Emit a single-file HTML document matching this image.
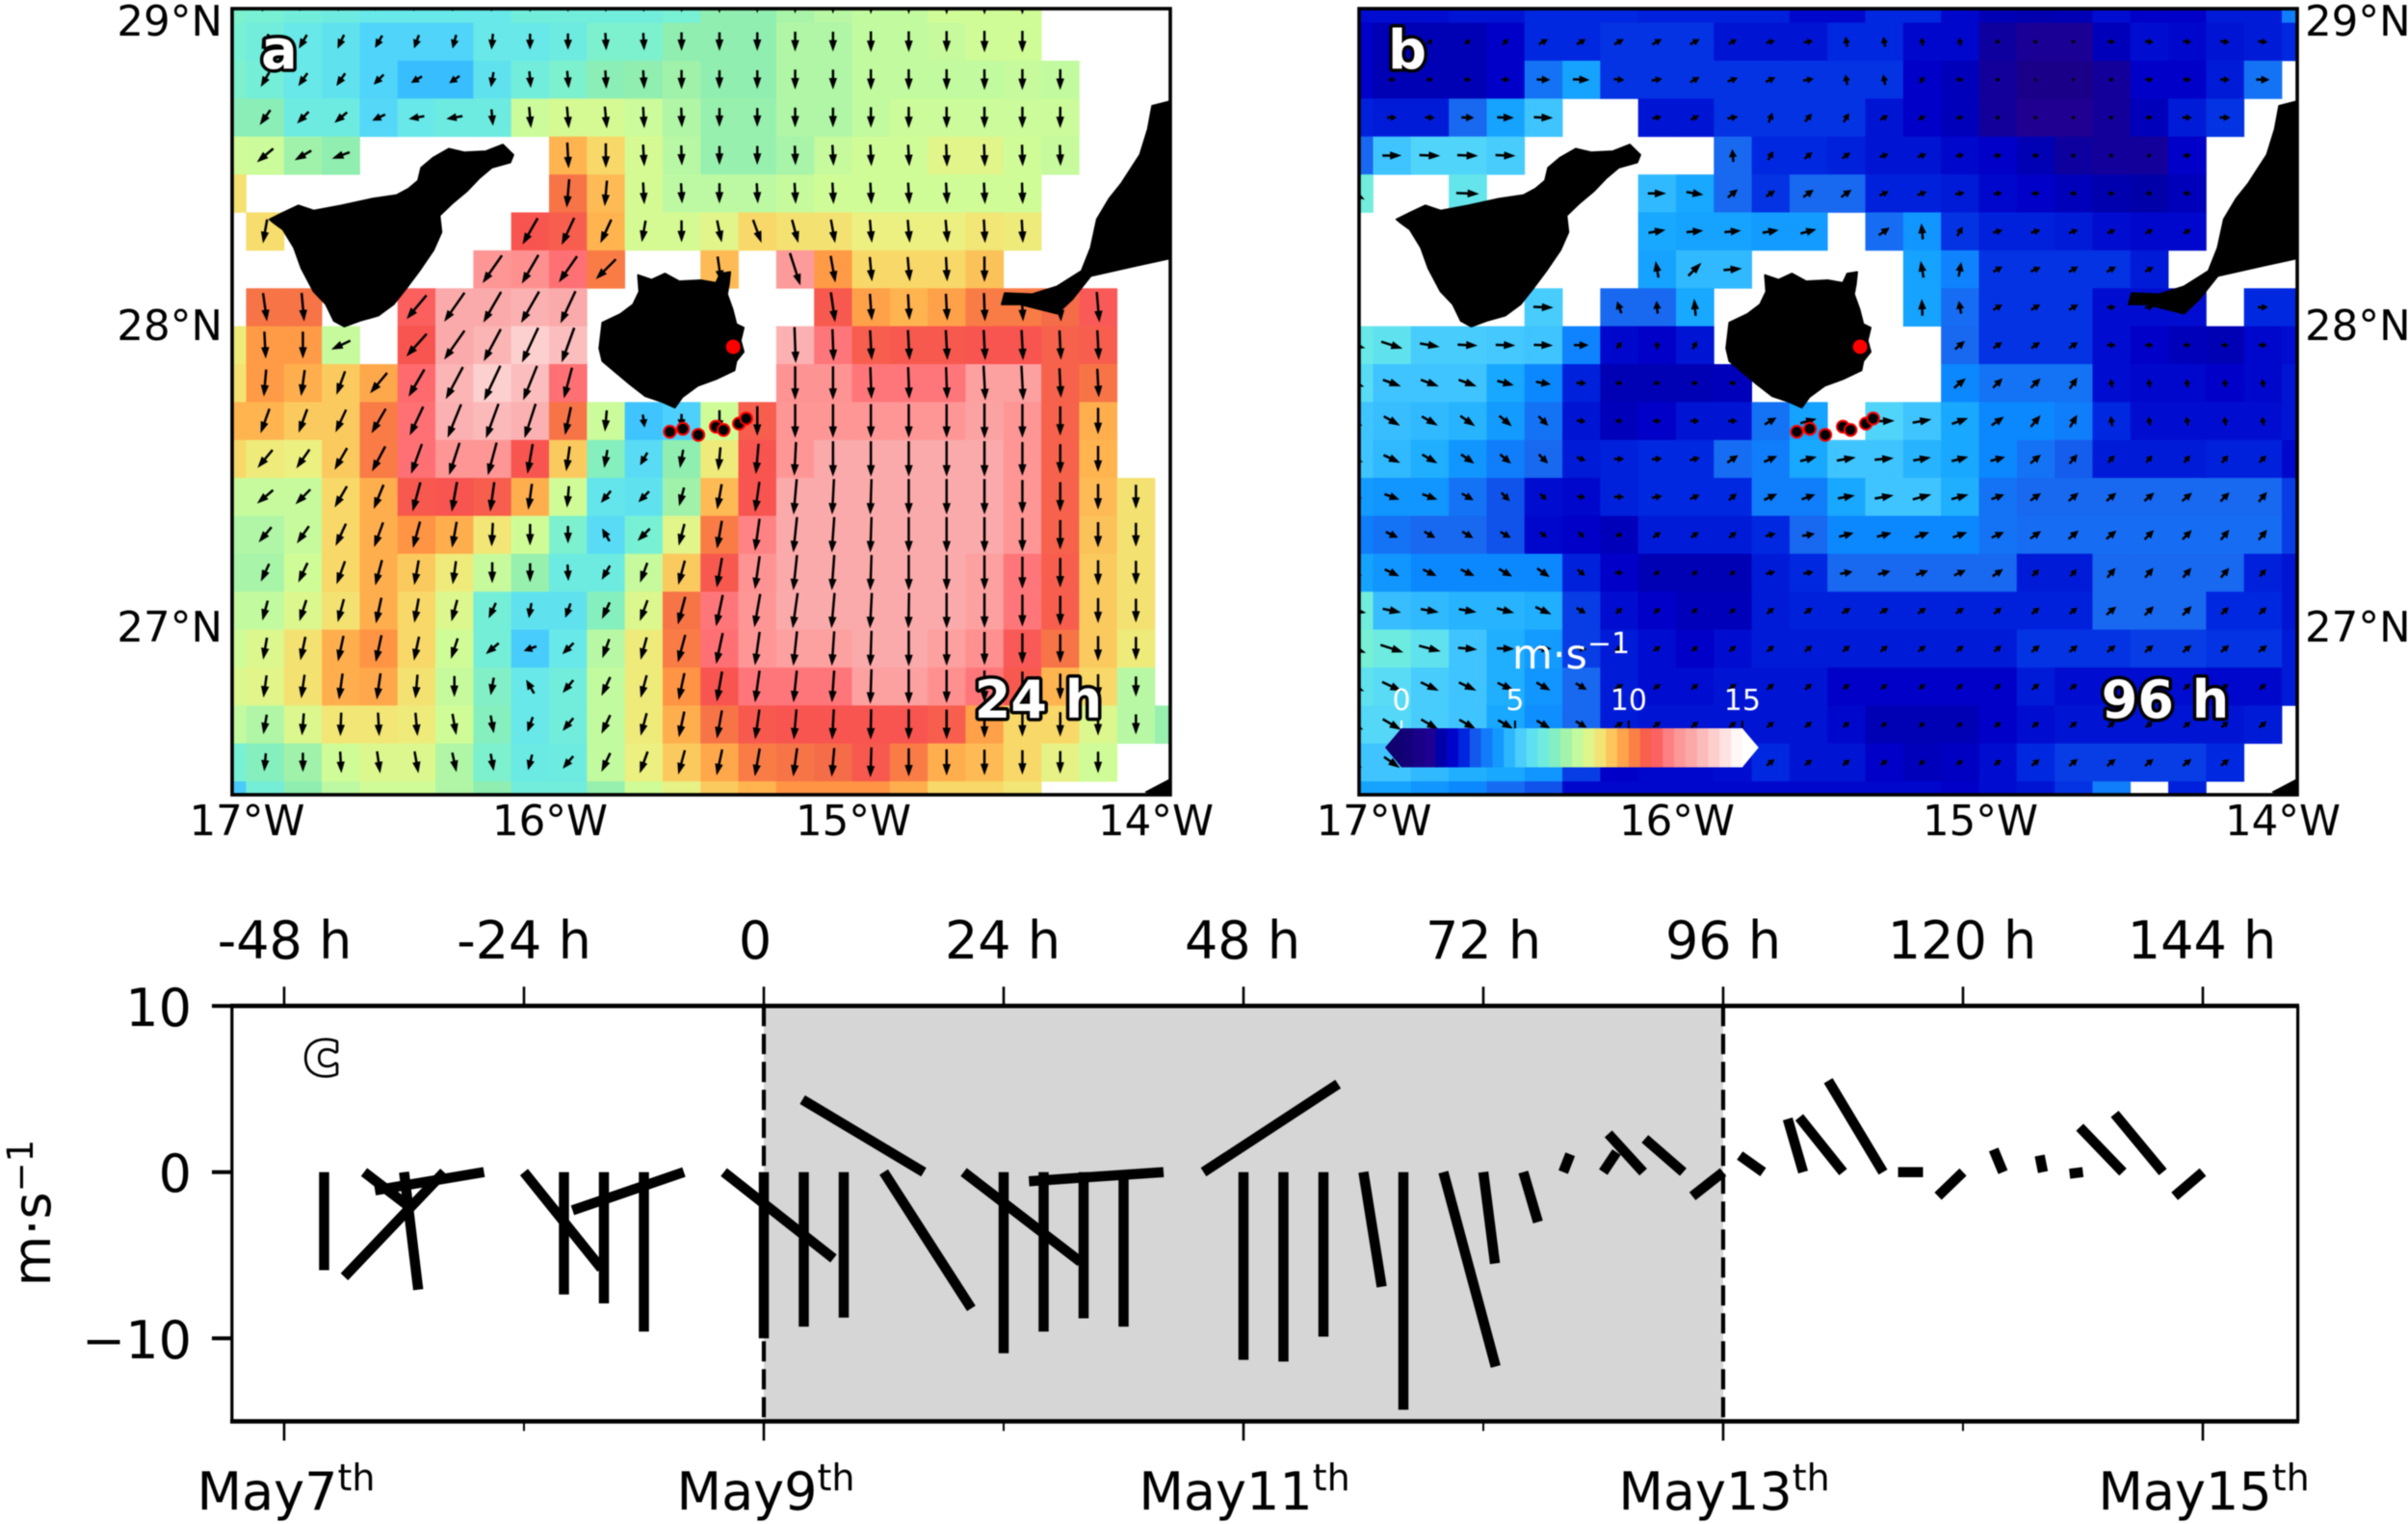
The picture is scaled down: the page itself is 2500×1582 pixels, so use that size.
<!DOCTYPE html>
<html lang="en">
<head>
<meta charset="utf-8">
<title>Wind maps and stick plot</title>
<style>
html,body{margin:0;padding:0;background:#fff;}
svg{display:block;font-family:"DejaVu Sans","Liberation Sans",sans-serif;filter:blur(0.6px);}
.tick{font-size:43.5px;fill:#000;}
.big{font-size:54px;fill:#000;}
.tag{font-size:54px;font-weight:bold;fill:#fff;stroke:#000;stroke-width:7px;paint-order:stroke;stroke-linejoin:round;}
.cb{font-size:30px;fill:#fff;text-anchor:middle;}
</style>
</head>
<body>
<svg id="figure" xmlns="http://www.w3.org/2000/svg" width="2500" height="1582" viewBox="0 0 2500 1582">
<rect x="0" y="0" width="2500" height="1582" fill="#fff"/>
<defs>
<clipPath id="clipA"><rect x="241" y="9" width="974" height="816"/></clipPath>
<clipPath id="clipB"><rect x="1411" y="9" width="974" height="816"/></clipPath>
</defs>
<g id="panelA" clip-path="url(#clipA)"></g>
<g id="panelB" clip-path="url(#clipB)"></g>
<g id="chartC"></g>

<g class="tick" text-anchor="middle">
<text x="256.5" y="867">17°W</text>
<text x="571" y="867">16°W</text>
<text x="886" y="867">15°W</text>
<text x="1200" y="867">14°W</text>
</g>
<g class="tick" text-anchor="middle">
<text x="1426.5" y="867">17°W</text>
<text x="1741" y="867">16°W</text>
<text x="2056" y="867">15°W</text>
<text x="2370" y="867">14°W</text>
</g>
<g class="tick" text-anchor="end">
<text x="231" y="37">29°N</text>
<text x="231" y="353">28°N</text>
<text x="231" y="666">27°N</text>
</g>
<g class="tick">
<text x="2393" y="37">29°N</text>
<text x="2393" y="353">28°N</text>
<text x="2393" y="666">27°N</text>
</g>

<text class="tag" x="271" y="71" style="font-size:56px">a</text>
<text class="tag" x="1441" y="71" style="font-size:56px">b</text>
<text class="tag" x="316" y="1115" style="font-size:62px;stroke-width:5.5px">c</text>
<text class="tag" x="1078" y="745" text-anchor="middle">24 h</text>
<text class="tag" x="2248" y="745" text-anchor="middle">96 h</text>

<text x="1570" y="694" font-size="43" fill="#fff">m·s<tspan dy="-16" font-size="30">−1</tspan></text>

<g class="big" text-anchor="middle">
<text x="295.5" y="995">-48 h</text>
<text x="544" y="995">-24 h</text>
<text x="784" y="995">0</text>
<text x="1041" y="995">24 h</text>
<text x="1290" y="995">48 h</text>
<text x="1540" y="995">72 h</text>
<text x="1789" y="995">96 h</text>
<text x="2037" y="995">120 h</text>
<text x="2286" y="995">144 h</text>
</g>
<g class="big" text-anchor="end">
<text x="199" y="1065">10</text>
<text x="199" y="1237">0</text>
<text x="199" y="1410">−10</text>
</g>
<text class="big" text-anchor="middle" transform="translate(52,1259) rotate(-90)">m·s<tspan dy="-18" font-size="37">−1</tspan></text>
<g class="big" text-anchor="middle">
<text x="297" y="1567">May7<tspan dy="-20" font-size="38">th</tspan></text>
<text x="795" y="1567">May9<tspan dy="-20" font-size="38">th</tspan></text>
<text x="1292" y="1567">May11<tspan dy="-20" font-size="38">th</tspan></text>
<text x="1790" y="1567">May13<tspan dy="-20" font-size="38">th</tspan></text>
<text x="2288" y="1567">May15<tspan dy="-20" font-size="38">th</tspan></text>
</g>
</svg>

<script>
const n = null;

/* Panel a: wind speed (m/s) on the 1/8 degree grid */
const speedA = [
[6.6,6.5,6.3,6.2,6.0,6.0,6.0,6.0,6.3,6.3,6.3,6.3,6.5,7.0,7.0,7.3,7.5,7.7,7.7,8.0,8.0,8.0,n,n,n,n],
[6.5,6.3,6.0,5.8,5.4,5.4,5.4,6.0,6.0,6.2,6.6,6.6,7.0,7.0,7.0,7.4,7.4,7.7,7.7,7.8,8.0,8.0,n,n,n,n],
[6.6,6.4,6.0,5.8,5.4,4.9,4.9,5.8,6.3,6.6,6.9,7.0,7.2,7.0,7.0,7.4,7.4,7.7,7.7,7.7,7.7,7.8,7.7,n,n,n],
[6.9,6.9,6.2,6.2,5.5,6.0,6.2,6.2,7.9,8.1,8.1,7.9,7.4,7.1,7.1,7.4,7.4,7.7,7.9,7.9,7.9,7.9,7.9,n,n,n],
[8.0,7.9,7.2,7.0,n,n,n,n,n,9.5,9.0,8.1,7.5,7.1,7.1,7.3,7.8,8.0,8.0,8.3,8.3,8.0,7.8,n,n,n],
[8.8,n,n,n,n,n,n,n,n,10.4,9.4,8.1,7.6,7.6,7.6,7.8,8.0,8.0,8.0,8.0,8.0,8.0,n,n,n,n],
[n,8.9,n,n,n,n,n,n,11.0,10.8,9.5,8.1,8.1,8.3,9.0,8.8,8.8,8.5,8.5,8.5,8.7,8.6,n,n,n,n],
[n,n,n,n,n,n,n,12.2,12.0,11.5,10.3,n,n,9.4,n,12.3,9.9,9.0,9.0,9.0,9.3,n,n,n,n,n],
[n,10.4,10.4,n,n,11.2,12.8,12.8,13.0,12.8,n,n,n,n,n,n,10.9,9.8,9.5,9.8,10.3,10.3,10.5,11.1,n,n],
[8.6,9.9,9.9,7.8,n,11.0,12.8,13.1,13.8,13.3,n,n,n,n,n,13.0,11.6,10.8,10.9,10.9,11,11,10.7,10.8,n,n],
[8.8,9.9,9.6,9.2,9.7,11.4,13.1,13.8,13.3,11.5,n,n,n,n,n,12.1,12.1,11.6,11.6,11.6,12.5,12.5,10.7,10.4,n,n],
[9.5,9.5,9.2,9.2,10.3,11.5,13.0,13.2,13.0,10.4,7.9,5.0,5.3,8.0,10.8,12.2,12.2,12.2,12.2,12.2,12.6,12.2,10.7,9.6,n,n],
[9.0,8.6,8.5,9.2,10.3,11.5,12.2,12.2,11.0,9.2,6.8,5.6,7.0,8.6,11.0,12.2,12.8,12.8,12.8,12.8,12.8,12.2,10.7,9.5,n,n],
[7.8,7.8,7.8,9.0,9.6,10.9,11.0,10.8,9.6,8.0,5.9,5.8,7.2,9.4,11.0,12.8,12.8,12.8,12.8,12.8,12.8,12.2,10.7,9.4,8.8,n],
[7.4,7.4,7.8,9.0,9.6,10.0,9.6,8.7,8.0,6.6,5.6,6.5,8.3,10.3,11.8,12.8,12.8,12.8,12.8,12.8,12.8,12.2,10.7,9.3,8.8,n],
[7.3,7.3,8.0,9.0,9.6,9.2,8.6,7.8,7.1,6.2,6.2,7.8,9.2,10.9,12.1,12.8,12.8,12.8,12.8,12.8,12.5,11.6,10.8,9.2,8.8,n],
[7.7,7.7,8.2,8.8,9.6,9.0,8.2,6.4,5.8,5.8,6.8,8.2,10.4,11.6,12.2,12.8,12.8,12.8,12.8,12.8,12.5,11.6,10.8,9.2,8.8,n],
[8.0,8.2,8.8,9.6,10.0,9.0,8.0,6.4,5.2,6.0,7.5,8.6,10.3,11.5,12.2,12.5,12.5,12.8,12.8,12.5,12.0,11.1,10.4,9.2,8.6,n],
[8.2,8.3,8.8,9.6,9.7,8.8,7.8,6.7,6.0,6.3,7.7,8.6,10.0,11.0,11.6,11.6,11.6,12.5,12.5,12.0,11.6,10.9,9.5,9.0,7.5,n],
[7.7,7.4,8.2,8.7,8.7,8.6,8.0,6.8,6.0,6.3,7.7,8.6,9.6,10.4,10.9,11.0,11.0,11.0,11.0,10.8,9.8,9.0,9.0,8.2,7.5,7.1],
[6.5,6.8,7.2,8.0,8.2,8.2,7.4,6.6,6.1,6.2,7.7,8.5,9.2,9.7,10.3,10.4,10.5,10.9,10.3,9.6,9.4,9.0,8.4,8.0,n,n],
[5.2,6.4,7.0,7.6,8,8,7.4,7.0,6.3,6.3,7.1,8.0,8.4,9.2,9.5,10,10,10,9.6,9,9,8.7,n,n,n,n]
];

/* Panel a: arrow direction, degrees from south, positive toward west */
const angleA = [
[n,20,25,20,25,20,15,5,0,0,0,0,0,0,0,0,0,0,0,0,0,0,n,n,n,n],
[n,25,30,25,30,20,15,5,0,0,-3,-3,0,0,0,0,0,0,0,0,0,0,n,n,n,n],
[n,30,35,35,45,60,55,10,-5,-5,-3,-3,0,0,0,0,0,0,0,0,0,0,0,n,n,n],
[n,35,45,50,65,80,80,-5,-5,-5,-5,-3,-2,0,0,0,0,0,0,0,0,0,0,n,n,n],
[n,50,60,70,n,n,n,n,n,-3,0,-3,-2,0,0,-2,-3,-3,-3,-2,-2,-2,-2,n,n,n],
[n,n,n,n,n,n,n,n,n,5,5,-3,-3,0,-3,-3,-3,-3,-3,-3,-3,-2,n,n,n,n],
[n,10,n,n,n,n,n,n,30,25,25,10,0,-12,-20,-15,-10,-5,-5,-5,-3,-3,n,n,n,n],
[n,n,n,n,n,n,n,35,30,35,45,n,n,-8,n,-18,-10,-5,-5,-3,0,n,n,n,n,n],
[n,-8,-5,n,n,40,35,30,30,25,n,n,n,n,n,n,-8,-4,-3,-3,-2,-3,-3,-5,n,n],
[n,-3,0,65,n,42,35,28,25,20,n,n,n,n,n,-2,-2,-3,-3,-3,-3,-3,-3,-3,n,n],
[n,5,8,20,40,30,28,25,22,15,n,n,n,n,n,0,0,-2,-2,-2,-3,-3,-3,-3,n,n],
[n,20,20,25,30,25,22,20,18,12,5,-8,0,0,0,0,0,0,0,0,0,0,0,0,n,n],
[n,40,35,30,28,20,18,15,10,8,10,30,10,5,5,3,0,0,0,0,0,0,0,0,n,n],
[n,50,45,30,22,15,10,8,8,5,40,45,15,10,8,5,3,2,0,0,0,0,0,0,0,n],
[n,40,35,25,20,15,10,3,0,0,150,45,15,10,8,6,4,2,0,0,0,0,0,0,0,n],
[n,25,25,20,15,10,8,0,0,-3,30,20,15,10,8,6,4,2,0,0,0,0,0,0,0,n],
[n,15,18,15,12,10,15,25,10,20,25,20,15,12,10,8,5,3,1,0,0,0,0,0,0,n],
[n,10,12,12,12,12,18,50,70,45,20,15,15,12,8,6,4,2,0,0,0,0,0,0,0,n],
[n,8,8,8,8,5,0,10,150,40,25,15,12,10,8,6,4,2,0,0,0,0,0,0,0,n],
[n,10,5,2,-3,-5,-10,-10,20,40,25,15,12,10,8,5,3,1,0,0,0,0,0,0,0,n],
[n,5,0,-3,-8,-10,-12,-10,15,40,25,20,15,12,10,8,5,2,0,0,0,0,0,0,n,n]
];

/* Panel b: wind speed (m/s) */
const speedB = [
[2.4,2.4,2.4,2.5,2.5,2.8,2.8,2.8,2.7,2.7,2.7,2.7,2.3,2.3,2.8,2.8,2.3,1.9,1.8,1.9,2.4,2.2,2.2,2.6,2.6,3.8],
[2.2,1.9,1.9,1.9,2.2,2.8,2.8,2.9,2.9,2.9,2.5,2.5,2.5,2.8,2.8,2.3,2.3,1.5,1.3,1.3,2.0,2.4,2.3,2.5,2.6,2.8],
[2.2,1.9,1.9,1.9,2.2,3.6,4.4,2.9,2.9,2.9,2.9,2.9,2.9,2.9,2.9,2.2,2.0,1.4,0.8,0.8,1.4,2.2,2.2,2.6,3.6,n],
[2.7,2.6,2.6,3.4,4.4,5.0,n,n,2.5,2.5,2.9,2.9,2.9,2.9,2.5,2.2,2.0,1.4,1.2,1.2,1.4,2.0,2.6,2.9,n,n],
[3.4,5.0,5.4,5.4,5.2,n,n,n,n,n,3.4,2.8,2.8,2.7,2.5,2.5,2.3,2.2,1.9,1.5,1.4,1.4,2.2,n,n,n],
[6.3,n,n,5.9,n,n,n,n,4.8,4.5,3.4,2.9,3.4,3.4,2.7,2.7,2.6,2.3,2.2,2.0,1.8,1.7,2.0,n,n,n],
[n,n,n,n,n,n,n,n,4.5,4.4,4.4,4.3,4.3,n,3.5,4.2,2.9,2.7,2.7,2.6,2.4,2.3,2.3,n,n,n],
[n,n,n,n,n,n,n,n,4.4,4.8,4.8,n,n,n,n,4.4,3.9,2.9,2.9,2.9,2.9,2.6,n,n,n,n],
[n,n,n,n,n,5.2,n,3.4,3.4,4.5,n,n,n,n,n,4.4,3.5,2.9,2.9,2.9,2.4,2.4,2.4,n,2.8,2.8],
[6.0,5.8,5.2,5.2,5.1,5.0,3.9,2.3,2.2,2.5,n,n,n,n,n,n,3.4,2.9,2.9,2.9,2.4,2.2,2.0,1.9,2.3,2.4],
[5.6,5.0,5.0,5.0,4.5,4.0,2.7,1.9,1.9,1.9,2.0,n,n,n,n,n,4.0,3.6,3.6,3.6,2.4,2.3,2.3,2.2,2.3,2.5],
[5.0,4.9,4.8,4.7,4.3,3.6,2.5,2.0,2.2,2.5,2.5,3.6,4.4,n,5.4,5.0,4.5,4.0,4.0,3.8,2.8,2.4,2.4,2.4,2.4,2.5],
[5.0,4.8,4.6,4.2,3.8,3.4,2.6,2.7,2.8,2.8,3.5,3.8,4.5,5.0,5.0,4.7,4.5,4.0,3.6,3.3,2.6,2.6,2.6,2.7,2.7,2.3],
[4.3,4.2,4.2,3.6,3.2,2.4,2.3,2.7,2.8,2.8,2.8,3.8,3.8,4.5,5.0,5.0,4.6,3.6,3.4,3.4,3.4,3.4,3.4,3.4,3.4,3.0],
[3.8,3.6,3.4,3.4,3.2,2.3,2.2,2.0,2.6,2.6,2.6,2.8,3.4,4.0,4.0,4.0,4.0,3.6,3.5,3.5,3.5,3.5,3.5,3.5,3.5,3.0],
[4.4,4.2,4,4,4,4,2.7,2.2,1.9,1.9,1.9,2.6,2.8,3.4,3.4,3.4,3.4,3.4,2.6,2.6,3.4,3.4,3.4,3.4,2.7,2.5],
[6.3,4.9,4.8,4.7,4.7,4.6,3.0,2.4,2.2,2.0,2.0,2.6,2.7,2.7,2.7,2.7,2.7,2.7,2.7,2.7,3.4,3.4,3.4,2.8,2.8,2.5],
[6.5,6.2,5.8,5.0,4.6,4.3,3.0,2.6,2.4,2.2,2.4,2.6,2.6,2.6,2.6,2.6,2.6,2.6,2.9,2.9,2.9,3.0,3.0,2.9,2.9,2.6],
[5.8,5.6,5.2,5.0,4.6,4.2,3.4,2.6,2.4,2.4,2.5,2.5,2.5,2.2,2.2,2.2,2.2,2.2,2.6,2.4,2.4,2.4,2.4,2.3,2.3,2.6],
[5.5,5.5,5.2,5.0,4.5,4.1,3.4,2.6,2.5,2.5,2.5,2.5,2.5,2.3,1.9,1.9,1.9,2.2,2.4,2.5,2.5,2.5,2.5,2.5,2.6,n],
[5.0,5.0,4.8,4.6,4.5,4.2,3.0,2.2,2.3,2.3,2.4,2.8,2.5,2.5,2.2,2.0,2.1,2.4,2.8,3.0,3.0,3.0,3.0,2.8,n,n],
[4.4,4.4,4.2,4.0,3.5,3.2,2.3,2.3,2.3,2.3,2.3,2.3,2.3,2.3,2.3,2.3,2.2,2.4,2.5,2.9,3.8,n,2.7,n,n,n]
];

/* Panel b: arrow direction, degrees from south, positive toward west */
const angleB = [
[n,n,n,n,n,n,n,n,n,n,n,n,n,n,n,n,n,n,n,n,n,n,n,n,n,n],
[n,-135,-135,-135,-135,-120,-120,-120,-120,-120,-120,-105,-100,170,170,170,170,-90,-90,-90,-90,-85,-85,-85,-85,n],
[n,-90,-90,-90,-90,-88,-88,-85,-100,-120,-110,-115,-100,170,170,-150,-90,-90,-90,-90,-100,-90,-88,-88,-90,n],
[n,-90,-88,-88,-88,-88,n,n,-100,-120,-100,-160,-140,-150,-120,-120,-100,-100,-90,-90,-90,-90,-88,-88,n,n],
[-90,-90,-88,-88,-88,n,n,n,n,n,175,-150,-130,-125,-110,-110,-100,-95,-90,-90,-90,-90,-90,n,n,n],
[-60,n,n,-88,n,n,n,n,-90,-80,-130,-125,-125,-125,-115,-110,-100,-95,-90,-85,-85,-85,-80,n,n,n],
[n,n,n,n,n,n,n,n,-100,-95,-95,-100,-105,n,-125,175,-150,-105,-105,-110,-115,-120,-120,n,n,n],
[n,n,n,n,n,n,n,n,170,-135,-95,n,n,n,n,170,-170,-120,-115,-120,-120,-120,n,n,n,n],
[n,n,n,n,n,-88,n,160,175,175,n,n,n,n,n,178,170,-120,-120,-120,-90,-90,-90,n,-90,n],
[-75,-72,-80,-87,-88,-88,-90,-140,175,-150,n,n,n,n,n,n,-130,-125,-125,-125,-90,-90,-90,-90,-88,n],
[-70,-70,-70,-70,-75,-80,-88,-90,-95,-90,-90,n,n,n,n,n,-130,-135,-135,-145,170,170,170,170,170,n],
[-60,-60,-60,-55,-50,-45,-85,-90,-90,-90,-90,-120,-105,n,-92,-100,-110,-125,-140,-150,170,170,170,170,170,n],
[-70,-65,-60,-55,-50,-45,-70,-90,-95,-105,-125,-115,-105,-100,-95,-100,-105,-105,-130,-140,-140,-140,-140,-140,-135,n],
[-80,-70,-70,-60,-45,-45,-85,-90,-100,-115,-130,-115,-110,-100,-100,-105,-105,-110,-125,-130,-130,-130,-130,-135,-140,n],
[-60,-65,-60,-60,-60,-50,-40,-110,-125,-125,-130,-105,-100,-105,-105,-110,-110,-115,-125,-130,-130,-135,-135,-140,-140,n],
[-70,-65,-65,-65,-60,-55,-50,-90,-130,-130,-130,-105,-100,-100,-105,-110,-115,-125,-135,-140,-140,-140,-140,-140,-140,n],
[-80,-78,-80,-80,-75,-65,-60,-130,-130,-130,-130,-130,-125,-120,-120,-125,-125,-130,-130,-130,-130,-135,-135,-135,-135,n],
[-70,-72,-75,-85,-88,-90,-80,-120,-125,-125,-130,-130,-130,-130,-130,-130,-130,-130,-130,-130,-130,-130,-130,-130,-130,n],
[-65,-65,-65,-65,-65,-60,-60,-120,-125,-130,-130,-130,-130,-130,-130,-130,-130,-130,-130,-130,-130,-130,-130,-130,-130,n],
[-60,-60,-60,-60,-60,-60,-60,-120,-125,-130,-130,-130,-130,-130,-130,-130,-130,-130,-130,-130,-130,-130,-130,-130,-130,n],
[-55,-55,-55,-55,-55,-55,-55,-120,-125,-130,-130,-130,-130,-130,-130,-130,-130,-130,-130,-130,-130,-130,-130,-130,n,n]
];

/* Sites drawn on both maps */
const siteLon = [-15.601,-15.558,-15.507,-15.449,-15.424,-15.373,-15.349];
const siteLat = [27.652,27.662,27.642,27.669,27.658,27.679,27.696];
const stationLon = [-15.392];
const stationLat = [27.932];

/* Colour scale */
const scaleValues = [0,0.8,1.2,1.7,2.2,2.8,3.4,4,4.5,5,5.5,6,6.5,7,7.5,8,8.5,9,9.5,10,10.5,11,11.5,12,12.8,13.5,14.5,15];
const scaleColors = ['#100070','#1a0088','#200090','#0000a8','#0000c8','#0028e0','#1868f0','#0c88ff','#18a8ff','#40c4ff','#55d8f8','#68e8e8','#78f0d4','#90eeb0','#b8f8a4','#d0fc98','#ecf080','#f8d868','#ffb450','#ff9444','#f56c48','#f85450','#ff7074','#ff9090','#faaaaa','#fcc4c4','#feecec','#ffffff'];
const colorbarTicks = [0,5,10,15];

/* Panel c: stick plot */
const stickHours = [-44,-40,-36,-32,-28,-24,-20,-16,-12,-8,-4,0,4,8,12,16,20,24,28,32,36,40,44,48,52,56,60,64,68,72,76,80,84,88,92,96,100,104,108,112,116,120,124,128,132,136,140,144];
const stickU = [0,3.0,0.85,-6.0,-6.56,4.66,0,0,0,-6.7,6.6,0,0,0,5.27,-7.3,7.04,0,0,0,0,-8.1,8.1,0,0,0,1.1,0,3.15,0.7,0.88,0.42,0.8,-2.1,-2.3,-1.85,-1.4,-0.93,-2.64,-3.3,-1.5,-1.5,-0.56,-0.2,-0.8,-2.6,-2.9,-1.7];
const stickV = [-5.9,-2.3,-7.07,-6.3,-1.1,-5.8,-7.36,-7.9,-9.6,-2.3,-5.2,-10,-9.3,-8.76,-8.2,4.36,-5.4,-10.9,-9.6,-8.8,-9.3,-0.55,5.3,-11.3,-11.4,-9.9,-6.9,-14.3,-11.7,-5.5,-3.0,1.07,1.2,2.3,2.0,-1.45,1.0,3.2,3.3,5.5,0,-1.45,1.36,1.0,-0.1,2.7,3.5,-1.45];
const topTickHours = [-48,-24,0,24,48,72,96,120,144];
const bottomMajorHours = [-48,0,48,96,144];
const bottomMinorHours = [-24,24,72,120];
const yTickValues = [10,0,-10];
const shadedHours = [0,96];

const NS = 'http://www.w3.org/2000/svg';
function mk(tag, attrs, parent) {
  const el = document.createElementNS(NS, tag);
  for (const k in attrs) el.setAttribute(k, attrs[k]);
  parent.appendChild(el);
  return el;
}

/* map axis functions; dx is the horizontal panel offset */
function lonX(lon, dx) { return 255.5 + 314.5 * (lon + 17) + dx; }
function latY(lat) { return 23.6 + 315 * (29 - lat); }
function colLon(i) { return -17 + (i - 1) * 0.125; }
function rowLat(j) { return 29 - (j - 1) * 0.125; }

function hexToRgb(h) { return [parseInt(h.substr(1,2),16),parseInt(h.substr(3,2),16),parseInt(h.substr(5,2),16)]; }
function speedColor(v) {
  if (v <= scaleValues[0]) return scaleColors[0];
  for (let k = 1; k < scaleValues.length; k++) {
    if (v <= scaleValues[k]) {
      const f = (v - scaleValues[k-1]) / (scaleValues[k] - scaleValues[k-1]);
      const a = hexToRgb(scaleColors[k-1]), b = hexToRgb(scaleColors[k]);
      return 'rgb(' + [0,1,2].map(c => Math.round(a[c] + (b[c]-a[c]) * f)).join(',') + ')';
    }
  }
  return '#ffffff';
}

function arrowPoints(cx, cy, deg, len) {
  const r = deg * Math.PI / 180;
  const ux = -Math.sin(r), uy = Math.cos(r);
  const px = -uy, py = ux;
  const hl = Math.min(12, len * 0.62), hw = Math.min(4.2, 2 + len * 0.16), sw = 1.25;
  const tx = cx + ux * len / 2, ty = cy + uy * len / 2;
  const bx = cx - ux * len / 2, by = cy - uy * len / 2;
  const nx = tx - ux * hl, ny = ty - uy * hl;
  const pts = [[bx+px*sw,by+py*sw],[nx+px*sw,ny+py*sw],[nx+px*hw,ny+py*hw],[tx,ty],[nx-px*hw,ny-py*hw],[nx-px*sw,ny-py*sw],[bx-px*sw,by-py*sw]];
  return pts.map(p => p[0].toFixed(1) + ',' + p[1].toFixed(1)).join(' ');
}

/* Land outlines, in a local coordinate frame covering each map */
const landOutlines = [
 'M78 425L100 412L125 398L150 408L195 398L245 385L285 378L305 365L320 350L325 325L345 305L370 288L395 295L430 293L458 280L475 300L470 315L440 325L420 345L400 370L375 395L355 418L358 450L345 485L322 525L300 560L280 590L255 612L225 622L200 633L183 622L170 590L150 565L130 520L118 480L100 445L85 432Z',
 'M678 533L700 542L722 530L745 545L780 543L805 548L812 530L828 527L826 550L823 570L832 600L838 628L850 635L845 660L850 682L838 700L835 718L805 735L775 748L750 770L738 790L715 778L690 768L665 745L640 720L620 700L615 675L620 625L650 608L670 590L680 565Z',
 'M1548 195L1515 205L1508 250L1495 300L1465 355L1445 385L1425 425L1415 480L1400 525L1360 555L1320 570L1275 568L1270 590L1300 590L1360 608L1385 580L1415 535L1490 515L1548 500Z',
 'M1548 1508L1505 1535L1548 1542Z'
];

function drawMap(group, speed, angle, dx, lenFn) {
  for (let j = 0; j < speed.length; j++) {
    for (let i = 0; i < speed[j].length; i++) {
      const v = speed[j][i];
      if (v === null) continue;
      const x0 = lonX(colLon(i), dx), x1 = lonX(colLon(i + 1), dx);
      const y0 = latY(rowLat(j)), y1 = latY(rowLat(j + 1));
      const c = mk('rect', {x:x0.toFixed(2), y:y0.toFixed(2), width:(x1-x0+0.4).toFixed(2), height:(y1-y0+0.4).toFixed(2), fill:speedColor(v)}, group);
      
      
    }
  }
  for (let j = 0; j < angle.length; j++) {
    for (let i = 0; i < angle[j].length; i++) {
      const a = angle[j][i], v = speed[j][i];
      if (a === null || v === null) continue;
      const cx = lonX(colLon(i) + 0.0625, dx), cy = latY(rowLat(j) - 0.0625);
      const ar = mk('polygon', {points:arrowPoints(cx, cy, a, lenFn(v)), fill:'#000'}, group);
      
      
    }
  }
  const land = mk('g', {transform:'translate(' + (230 + dx) + ',0) scale(0.63776,0.53562)', fill:'#000', stroke:'#000', 'stroke-width':3, 'stroke-linejoin':'round'}, group);
  
  
  landOutlines.forEach(function (d) {
    const p = mk('path', {d:d}, land);
    
    
  });
  siteLon.forEach(function (lon, k) {
    const s = mk('circle', {cx:lonX(lon, dx).toFixed(1), cy:latY(siteLat[k]).toFixed(1), r:6.2, fill:'#000', stroke:'#f00', 'stroke-width':2}, group);
    
    
  });
  stationLon.forEach(function (lon, k) {
    const s = mk('circle', {cx:lonX(lon, dx).toFixed(1), cy:latY(stationLat[k]).toFixed(1), r:7.5, fill:'#f00'}, group);
    
    
  });
}

const figure = document.getElementById('figure');
const groupA = document.getElementById('panelA');
const groupB = document.getElementById('panelB');
drawMap(groupA, speedA, angleA, 0, function (s) { return Math.max(6, 3 * s - 1.5); });
drawMap(groupB, speedB, angleB, 1170, function (s) { return Math.max(3, 4.2 * s - 1); });

/* Colour bar over panel b */
function cbX(v) { return 1455 + 23.59 * v; }
const cbGroup = mk('g', {}, groupB);


for (let v = 0; v < 15; v += 0.5) {
  const seg = mk('rect', {x:cbX(v).toFixed(1), y:756, width:(cbX(0.5)-cbX(0)+0.4).toFixed(1), height:40.5, fill:speedColor(v + 0.25)}, cbGroup);
  
  
}
const cbLeft = mk('polygon', {points:cbX(0)+',756 '+cbX(-0.72)+',776 '+cbX(0)+',796.5', fill:'#100070'}, cbGroup);


const cbRight = mk('polygon', {points:cbX(15)+',756 '+cbX(15.72)+',776 '+cbX(15)+',796.5', fill:'#fff'}, cbGroup);


colorbarTicks.forEach(function (v) {
  const t = mk('line', {x1:cbX(v), x2:cbX(v), y1:748, y2:756, stroke:v < 2 ? '#fff' : '#000', 'stroke-width':2}, cbGroup);
  
  
  const lab = mk('text', {x:cbX(v), y:737, class:'cb'}, cbGroup);
  
  
  lab.textContent = String(v);
});

/* Map frames */
[0, 1170].forEach(function (dx) {
  const f = mk('rect', {x:241 + dx, y:9, width:974, height:816, fill:'none', stroke:'#000', 'stroke-width':3.6}, figure);
  
  
});

/* Panel c axis functions */
function hourX(h) { return 793 + h * 10.375; }
function valueY(v) { return 1216.7 - v * 17.25; }
const UNIT = 17.25;
const c = document.getElementById('chartC');
const top0 = valueY(10), bot0 = valueY(-15);

const band = mk('rect', {x:hourX(shadedHours[0]), y:top0, width:hourX(shadedHours[1]) - hourX(shadedHours[0]), height:bot0 - top0, fill:'#d6d6d6'}, c);



stickHours.forEach(function (h, k) {
  const x = hourX(h), y = valueY(0);
  const s = mk('line', {x1:x, y1:y, x2:(x + stickU[k] * UNIT).toFixed(1), y2:(y - stickV[k] * UNIT).toFixed(1), stroke:'#000', 'stroke-width':10.5}, c);
  
  
});

shadedHours.forEach(function (h) {
  const d = mk('line', {x1:hourX(h), x2:hourX(h), y1:top0, y2:bot0, stroke:'#000', 'stroke-width':4.2, 'stroke-dasharray':'21 8'}, c);
  
  
});

const spines = [[240.8,top0,240.8,bot0,3.2],[2385.6,top0,2385.6,bot0,3.2],[239,top0,2387,top0,4.6],[239,bot0,2387,bot0,4.6]];
spines.forEach(function (a) {
  const s = mk('line', {x1:a[0], y1:a[1], x2:a[2], y2:a[3], stroke:'#000', 'stroke-width':a[4]}, c);
  
  
});

topTickHours.forEach(function (h) {
  const t = mk('line', {x1:hourX(h), x2:hourX(h), y1:top0 - 20, y2:top0, stroke:'#000', 'stroke-width':2.6}, c);
  
  
});
bottomMajorHours.forEach(function (h) {
  const t = mk('line', {x1:hourX(h), x2:hourX(h), y1:bot0, y2:bot0 + 20, stroke:'#000', 'stroke-width':2.6}, c);
  
  
});
bottomMinorHours.forEach(function (h) {
  const t = mk('line', {x1:hourX(h), x2:hourX(h), y1:bot0, y2:bot0 + 10, stroke:'#000', 'stroke-width':2}, c);
  
  
});
yTickValues.forEach(function (v) {
  const t = mk('line', {x1:220, x2:240, y1:valueY(v), y2:valueY(v), stroke:'#000', 'stroke-width':4}, c);
  
  
});
</script>
</body>
</html>
